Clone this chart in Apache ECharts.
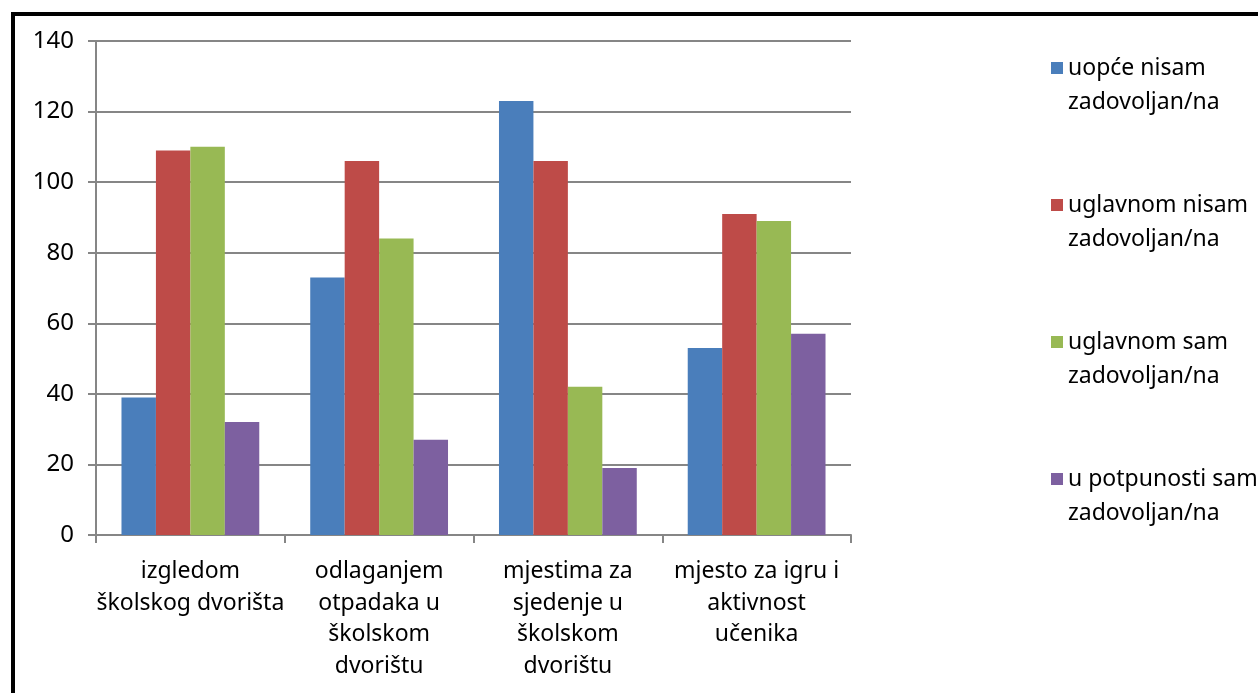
<!DOCTYPE html>
<html>
<head>
<meta charset="utf-8">
<script src="https://cdn.jsdelivr.net/npm/echarts@6/dist/echarts.min.js"></script>
<style>
html,body{margin:0;padding:0;background:#fff;overflow:hidden;}
#chart{position:absolute;left:0;top:0;width:1258px;height:693px;}
#frame{position:absolute;left:11px;top:12px;width:2000px;height:2000px;border-top:4px solid #000;border-left:4px solid #000;pointer-events:none;}
</style>
</head>
<body>
<div id="chart"></div>
<div id="frame"></div>
<script>
const categories = [
  'izgledom\nškolskog dvorišta',
  'odlaganjem\notpadaka u\nškolskom\ndvorištu',
  'mjestima za\nsjedenje u\nškolskom\ndvorištu',
  'mjesto za igru i\naktivnost\nučenika'
];
const seriesNames = [
  'uopće nisam zadovoljan/na',
  'uglavnom nisam zadovoljan/na',
  'uglavnom sam zadovoljan/na',
  'u potpunosti sam zadovoljan/na'
];
const uopceNisam = [39, 73, 123, 53];
const uglavnomNisam = [109, 106, 106, 91];
const uglavnomSam = [110, 84, 42, 89];
const uPotpunosti = [32, 27, 19, 57];
const yTicks = [0, 20, 40, 60, 80, 100, 120, 140];

const colors = ['#4A7EBB', '#BE4B48', '#98B954', '#7D60A0'];
const values = [uopceNisam, uglavnomNisam, uglavnomSam, uPotpunosti];
const font = 'Noto Sans';

const chart = echarts.init(document.getElementById('chart'));
chart.setOption({
  animation: false,
  color: colors,
  textStyle: { fontFamily: font },
  grid: { left: 96, right: 407, top: 41, bottom: 158, containLabel: false },
  legend: {
    orient: 'vertical',
    left: 1051,
    top: 17,
    padding: 0,
    itemWidth: 12,
    itemHeight: 12,
    itemGap: 35,
    icon: 'rect',
    formatter: function (n) { const i = n.lastIndexOf(' '); return '\n' + n.slice(0, i) + '\n' + n.slice(i + 1); },
    textStyle: { fontFamily: font, fontSize: 23, color: '#000', lineHeight: 34 },
    data: seriesNames
  },
  xAxis: {
    type: 'category',
    data: categories,
    axisLine: { lineStyle: { color: '#868686', width: 2 } },
    axisTick: { show: true, length: 8, alignWithLabel: false, interval: 0, lineStyle: { color: '#868686', width: 2 } },
    axisLabel: { interval: 0, margin: 21, fontSize: 23, color: '#000', lineHeight: 31.5, fontFamily: font }
  },
  yAxis: {
    type: 'value',
    min: yTicks[0],
    max: yTicks[yTicks.length - 1],
    interval: 20,
    axisLine: { show: true, lineStyle: { color: '#868686', width: 2 } },
    axisTick: { show: true, length: 8, lineStyle: { color: '#868686', width: 2 } },
    axisLabel: { margin: 22, fontSize: 24, color: '#000', fontFamily: font },
    splitLine: { lineStyle: { color: '#868686', width: 2 } }
  },
  series: seriesNames.map((name, i) => ({
    name: name,
    type: 'bar',
    data: values[i],
    barGap: '0%',
    barCategoryGap: '27%',
    itemStyle: { color: colors[i] }
  }))
});
</script>
</body>
</html>
